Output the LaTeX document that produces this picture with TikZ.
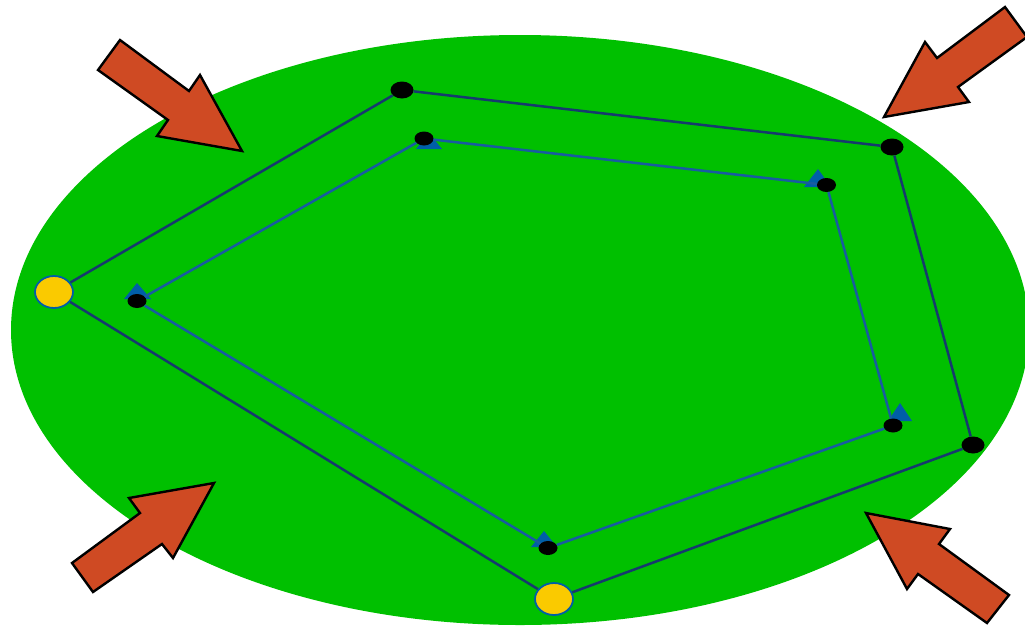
\documentclass[tikz,border=0pt]{standalone}
\usetikzlibrary{shapes.geometric}
\definecolor{field}{RGB}{0,192,0}
\definecolor{arrowfill}{RGB}{207,74,35}
\definecolor{outerline}{RGB}{22,58,110}
\definecolor{innerline}{RGB}{24,92,160}
\definecolor{marker}{RGB}{0,94,168}
\definecolor{gold}{RGB}{250,202,0}
\begin{document}
\begin{tikzpicture}[x=1pt,y=-1pt,
  outerpt/.style={ellipse,fill=black,inner sep=0pt,minimum width=23pt,minimum height=17pt},
  innerpt/.style={ellipse,fill=black,inner sep=0pt,minimum width=19pt,minimum height=14pt},
  portpt/.style={ellipse,fill=gold,draw=marker,line width=1.8pt,inner sep=0pt,minimum width=38pt,minimum height=32pt},
  outerlink/.style={draw=outerline,line width=2.5pt},
  innerlink/.style={draw=innerline,line width=2.5pt},
  tri/.style={fill=marker},
  pressure/.style={fill=arrowfill,draw=black,line width=2.4pt,line join=miter}
]
\useasboundingbox (0,0) rectangle (1025,625);

% green field
\fill[field] (520,330) ellipse [x radius=509, y radius=295];

% direction markers of the inner loop
\fill[tri] (137,283) -- (151,299) -- (124,299) -- cycle;
\fill[tri] (429,133) -- (442,149) -- (416,149) -- cycle;
\fill[tri] (818,169) -- (831,187) -- (804,187) -- cycle;
\fill[tri] (900,403) -- (912,421) -- (888,421) -- cycle;
\fill[tri] (544,531) -- (557,547) -- (531,547) -- cycle;

% outer loop points
\node[portpt]  (A) at (54,292) {};
\node[outerpt] (B) at (402,90) {};
\node[outerpt] (C) at (892,147) {};
\node[outerpt] (D) at (973,445) {};
\node[portpt]  (E) at (554,599) {};

% inner loop points
\node[innerpt] (a) at (137,301) {};
\node[innerpt] (b) at (424,138.5) {};
\node[innerpt] (c) at (826.5,185) {};
\node[innerpt] (d) at (893,425.5) {};
\node[innerpt] (e) at (548,548) {};

% outer loop
\draw[outerlink] (A) -- (B);
\draw[outerlink] (B) -- (C);
\draw[outerlink] (C) -- (D);
\draw[outerlink] (D) -- (E);
\draw[outerlink] (E) -- (A);

% inner loop
\draw[innerlink] (a) -- (b);
\draw[innerlink] (b) -- (c);
\draw[innerlink] (c) -- (d);
\draw[innerlink] (d) -- (e);
\draw[innerlink] (e) -- (a);

% inward pressure arrows
\filldraw[pressure] (120,40) -- (189,91) -- (200,75) -- (242,151) -- (157,136) -- (168,120) -- (98,70) -- cycle;
\filldraw[pressure] (1005,7) -- (1027,37) -- (958,87) -- (969,102) -- (884,117) -- (925,42) -- (937,58) -- cycle;
\filldraw[pressure] (93,592) -- (162,544) -- (173,558) -- (214,483) -- (129,498) -- (140,513) -- (72,563) -- cycle;
\filldraw[pressure] (866,513) -- (950,529) -- (939,544) -- (1009,595) -- (987,623) -- (918,574) -- (907,589) -- cycle;
\end{tikzpicture}
\end{document}
